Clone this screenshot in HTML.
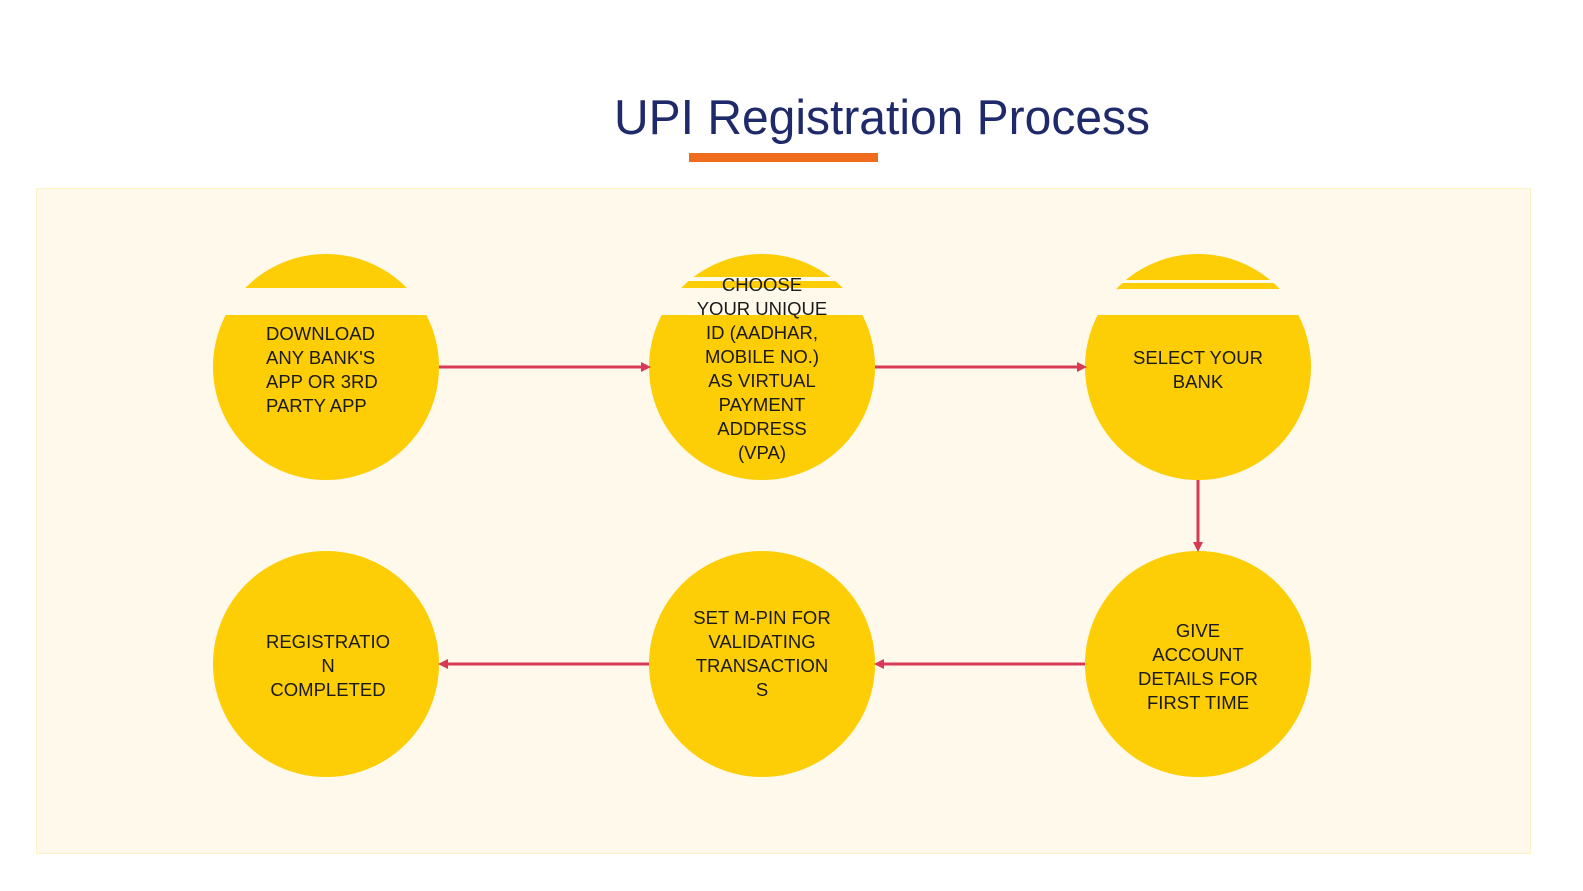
<!DOCTYPE html>
<html><head><meta charset="utf-8"><style>
html,body{margin:0;padding:0;background:#fff;}
svg{display:block;}
text{font-family:"Liberation Sans",Arial,sans-serif;}
</style></head><body>
<svg width="1583" height="891" viewBox="0 0 1583 891" xmlns="http://www.w3.org/2000/svg">
<rect width="1583" height="891" fill="#fff"/>
<text x="882" y="134" font-size="49" fill="#1f2a6b" text-anchor="middle" textLength="536" lengthAdjust="spacingAndGlyphs">UPI Registration Process</text>
<rect x="689" y="153" width="189" height="9" fill="#ee6c1b"/>
<rect x="36.5" y="188.5" width="1494" height="665" fill="#fef9ea" stroke="#fdf1c6" stroke-width="1"/>
<g fill="#fdcd05">
<circle cx="326" cy="367" r="113"/>
<circle cx="762" cy="367" r="113"/>
<circle cx="1198" cy="367" r="113"/>
<circle cx="326" cy="664" r="113"/>
<circle cx="762" cy="664" r="113"/>
<circle cx="1198" cy="664" r="113"/>
</g>
<g fill="#fef9ea">
<rect x="200" y="288" width="250" height="27"/>
<rect x="636" y="288" width="250" height="27"/>
<rect x="636" y="277" width="250" height="4"/>
<rect x="1072" y="289" width="250" height="26"/>
<rect x="1072" y="280" width="250" height="3"/>
</g>
<g stroke="#d63a55" stroke-width="3" fill="#d63a55">
<line x1="439" y1="367" x2="643" y2="367"/>
<line x1="875" y1="367" x2="1079" y2="367"/>
<line x1="1198" y1="480" x2="1198" y2="544"/>
<line x1="1085" y1="664" x2="882" y2="664"/>
<line x1="649" y1="664" x2="446" y2="664"/>
</g>
<g fill="#d63a55">
<polygon points="651,367 641,362 641,372"/>
<polygon points="1087,367 1077,362 1077,372"/>
<polygon points="1198,552 1193,542 1203,542"/>
<polygon points="874,664 884,659 884,669"/>
<polygon points="438,664 448,659 448,669"/>
</g>
<g font-size="18.5" fill="#1a1a1a">
<text x="266" y="340">DOWNLOAD</text>
<text x="266" y="364">ANY BANK'S</text>
<text x="266" y="388">APP OR 3RD</text>
<text x="266" y="412">PARTY APP</text>
</g>
<g font-size="18.5" fill="#1a1a1a" text-anchor="middle">
<text x="762" y="291">CHOOSE</text>
<text x="762" y="315">YOUR UNIQUE</text>
<text x="762" y="339">ID (AADHAR,</text>
<text x="762" y="363">MOBILE NO.)</text>
<text x="762" y="387">AS VIRTUAL</text>
<text x="762" y="411">PAYMENT</text>
<text x="762" y="435">ADDRESS</text>
<text x="762" y="459">(VPA)</text>
<text x="1198" y="364">SELECT YOUR</text>
<text x="1198" y="388">BANK</text>
<text x="328" y="648">REGISTRATIO</text>
<text x="328" y="672">N</text>
<text x="328" y="696">COMPLETED</text>
<text x="762" y="624">SET M-PIN FOR</text>
<text x="762" y="648">VALIDATING</text>
<text x="762" y="672">TRANSACTION</text>
<text x="762" y="696">S</text>
<text x="1198" y="637">GIVE</text>
<text x="1198" y="661">ACCOUNT</text>
<text x="1198" y="685">DETAILS FOR</text>
<text x="1198" y="709">FIRST TIME</text>
</g>
</svg>
</body></html>
